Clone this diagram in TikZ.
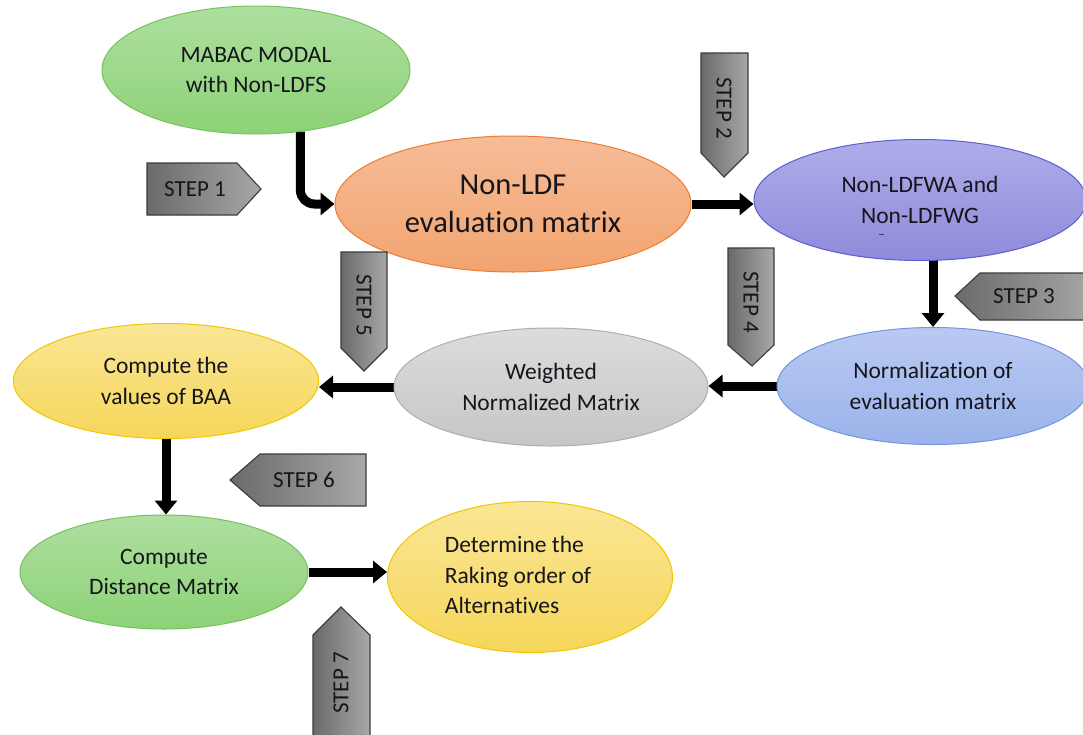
\documentclass[tikz,border=0pt]{standalone}
\usepackage{fontspec}
\setmainfont{Carlito}[Ligatures=NoCommon]
\usetikzlibrary{arrows.meta,shapes.geometric,backgrounds}
\definecolor{txt}{HTML}{15151C}
\definecolor{grnT}{HTML}{AEDFA0}\definecolor{grnB}{HTML}{8DD277}\definecolor{grnD}{HTML}{78C060}
\definecolor{orT}{HTML}{F6BC98}\definecolor{orB}{HTML}{F2A46F}\definecolor{orD}{HTML}{ED7D31}
\definecolor{puT}{HTML}{AEADE8}\definecolor{puB}{HTML}{8F8ADB}\definecolor{puD}{HTML}{5E5CD4}
\definecolor{blT}{HTML}{B9CAF2}\definecolor{blB}{HTML}{9BB3EB}\definecolor{blD}{HTML}{7394E0}
\definecolor{grT}{HTML}{DCDCDC}\definecolor{grB}{HTML}{C6C6C6}\definecolor{grD}{HTML}{AEAEAE}
\definecolor{yeT}{HTML}{FAE696}\definecolor{yeB}{HTML}{F6D65A}\definecolor{yeD}{HTML}{F0C800}
\definecolor{stL}{HTML}{6A6A6A}\definecolor{stR}{HTML}{A8A8A8}\definecolor{stD}{HTML}{3C3C3C}
\tikzset{
  ell/.style={ellipse, draw, line width=1pt, inner sep=0pt, align=center, text=txt,
    font=\fontsize{23.5}{30.5}\selectfont},
  flow/.style={line width=9pt, -{Triangle[length=14pt,width=22pt]}},
  stepshape/.style={draw=stD, line width=1.1pt, left color=stL, right color=stR},
  steptext/.style={text=txt, inner sep=0pt, font=\fontsize{23}{26}\selectfont},
}
\begin{document}
\begin{tikzpicture}[x=1pt,y=-1pt]
\useasboundingbox (0,0) rectangle (1083,734);
\clip (0,0) rectangle (1083,734);
% ellipses
\node[ell, minimum width=308pt, minimum height=128pt, top color=grnT, bottom color=grnB, draw=grnD]
  (mabac) at (256,70) {MABAC MODAL\\with Non-LDFS};
\node[ell, minimum width=356pt, minimum height=136pt, top color=orT, bottom color=orB, draw=orD,
  font=\fontsize{30.5}{38}\selectfont] (orange) at (513,204) {Non-LDF\\evaluation matrix};
\node[ell, minimum width=332pt, minimum height=121pt, top color=puT, bottom color=puB, draw=puD]
  (purple) at (920,200) {Non-LDFWA and\\Non-LDFWG};
\node[ell, minimum width=312pt, minimum height=117pt, top color=blT, bottom color=blB, draw=blD]
  (norm) at (933,386) {Normalization of\\evaluation matrix};
\node[ell, minimum width=314pt, minimum height=118pt, top color=grT, bottom color=grB, draw=grD]
  (gray) at (551,387) {Weighted\\Normalized Matrix};
\node[ell, minimum width=305pt, minimum height=115pt, top color=yeT, bottom color=yeB, draw=yeD]
  (baa) at (166,381) {Compute the\\values of BAA};
\node[ell, minimum width=288pt, minimum height=114pt, top color=grnT, bottom color=grnB, draw=grnD]
  (dist) at (164,572) {Compute\\Distance Matrix};
\node[ell, minimum width=285pt, minimum height=151pt, top color=yeT, bottom color=yeB, draw=yeD]
  (det) at (530,577) {\hspace*{-12pt}\raisebox{-3pt}{\begin{tabular}{@{}l@{}}Determine the\\Raking order of\\Alternatives\end{tabular}}\hspace*{12pt}};
\draw[puD!60!black, line width=0.8pt] (879,234.5) -- (884,234.5);
% step markers
\path[stepshape] (147,163) -- (237,163) -- (261,189) -- (237,215) -- (147,215) -- cycle;
\node[steptext] (s1) at (195,189) {STEP 1};
\path[stepshape] (701,53) -- (748,53) -- (748,153) -- (724,177) -- (701,153) -- cycle;
\node[steptext, rotate=-90] (s2) at (724,108) {STEP 2};
\path[stepshape] (1095,273) -- (980,273) -- (955,296) -- (980,320) -- (1095,320) -- cycle;
\node[steptext] (s3) at (1024,296) {STEP 3};
\path[stepshape] (728,248) -- (774,248) -- (774,345) -- (752,366) -- (728,345) -- cycle;
\node[steptext, rotate=-90] (s4) at (751,302) {STEP 4};
\path[stepshape] (341,252) -- (387,252) -- (387,348) -- (364,371) -- (341,348) -- cycle;
\node[steptext, rotate=-90] (s5) at (364,305) {STEP 5};
\path[stepshape] (230,480) -- (260,454) -- (366,454) -- (366,506) -- (260,506) -- cycle;
\node[steptext] (s6) at (304,480) {STEP 6};
\path[stepshape] (313,760) -- (313,635) -- (341,607) -- (370,635) -- (370,760) -- cycle;
\node[steptext, rotate=90] (s7) at (341,683) {STEP 7};
% connectors
\begin{scope}[on background layer]
\fill[white] (0,0) rectangle (1083,734);
\draw[flow, rounded corners=14pt] ([xshift=-2pt]mabac.-53) |- (orange.west);
\draw[flow] (orange.east) -- (orange.east -| purple.west);
\draw[flow] ([yshift=6pt]purple.south -| norm.north) -- (norm.north);
\draw[flow] (norm.west) -- (norm.west -| gray.east);
\draw[flow] (gray.west) -- (gray.west -| baa.east);
\draw[flow] (baa.south) -- (baa.south |- dist.north);
\draw[flow] (dist.east) -- (dist.east -| det.west);
\end{scope}
\end{tikzpicture}
\end{document}
